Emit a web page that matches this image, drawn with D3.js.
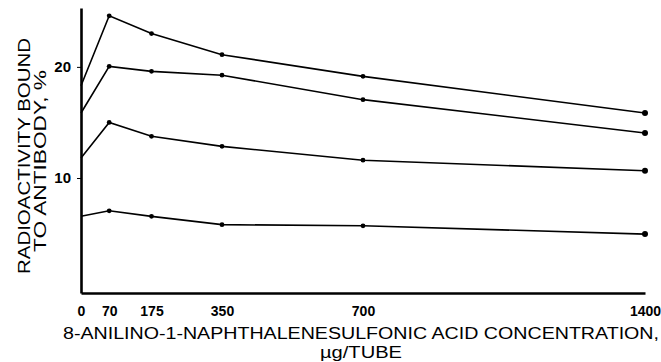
<html>
  <head>
    <script type="text/javascript" src="https://cdn.jsdelivr.net/npm/d3@7/dist/d3.min.js"></script>
    <style>
      body { margin: 0; background: #fff; }
      text { fill: #000; }
    </style>
  </head>
  <body>
    <script type="text/javascript">

    var concentrations = [0, 70, 175, 350, 700, 1400];
    var seriesA = [18.3, 24.6, 23.0, 21.1, 19.15, 15.85];
    var seriesB = [15.85, 20.05, 19.6, 19.25, 17.05, 14.05];
    var seriesC = [11.8, 15.0, 13.75, 12.85, 11.6, 10.65];
    var seriesD = [6.55, 7.05, 6.55, 5.8, 5.7, 4.95];
    var xTicks = [0, 70, 175, 350, 700, 1400];
    var yTicks = [10, 20];

    var svg = d3.select("body").append("svg")
                .attr("width", 661)
                .attr("height", 362);

    var x = d3.scaleLinear().domain([0, 1400]).range([81, 645]);
    var y = d3.scaleLinear().domain([-0.35, 25.3]).range([293, 8]);

    var tickFont = "Liberation Sans, Arial, sans-serif";
    var font = "Liberation Sans, Arial, sans-serif";

    // axes
    var yAxis = svg.append("g")
       .attr("transform", "translate(81,0)")
       .call(d3.axisLeft(y).tickValues(yTicks).tickSize(4).tickSizeOuter(0).tickPadding(6));
    yAxis.select(".domain").attr("stroke-width", 2.6);
    yAxis.selectAll("text").style("font-family", tickFont)
         .style("font-size", "15px").style("font-weight", "bold");

    var xAxis = svg.append("g")
       .attr("transform", "translate(0,293)")
       .call(d3.axisBottom(x).tickValues(xTicks).tickFormat(d3.format("d"))
               .tickSize(0).tickSizeOuter(0).tickPadding(13));
    xAxis.select(".domain").attr("stroke-width", 2.6);
    xAxis.selectAll("text").style("font-family", tickFont)
         .style("font-size", "14px").style("font-weight", "bold");

    // lines
    var allSeries = [seriesA, seriesB, seriesC, seriesD];
    var line = d3.line()
                 .x(function(d, i) { return x(concentrations[i]); })
                 .y(function(d) { return y(d); });

    for(var s = 0; s < allSeries.length; s++){
      svg.append("path")
         .datum(allSeries[s])
         .attr("d", line)
         .attr("fill", "none")
         .attr("stroke", "#000")
         .attr("stroke-width", 1.6);

      svg.selectAll(".dot" + s)
         .data(allSeries[s])
         .enter()
         .append("circle")
         .attr("cx", function(d, i) { return x(concentrations[i]); })
         .attr("cy", function(d) { return y(d); })
         .attr("r", function(d, i) { return i == 0 ? 0 : (i == 5 ? 3 : 2.4); })
         .attr("fill", "#000");
    }

    // axis titles (stretched to the width of the original lettering)
    svg.append("text")
       .attr("x", 361).attr("y", 339)
       .attr("text-anchor", "middle")
       .attr("textLength", 596).attr("lengthAdjust", "spacingAndGlyphs")
       .style("font-family", font).style("font-size", "16px")
       .text("8-ANILINO-1-NAPHTHALENESULFONIC ACID CONCENTRATION,");
    svg.append("text")
       .attr("x", 361).attr("y", 358)
       .attr("text-anchor", "middle")
       .attr("textLength", 82).attr("lengthAdjust", "spacingAndGlyphs")
       .style("font-family", font).style("font-size", "16px")
       .text("\u00b5g/TUBE");

    svg.append("text")
       .attr("transform", "translate(30,156) rotate(-90)")
       .attr("text-anchor", "middle")
       .attr("textLength", 236).attr("lengthAdjust", "spacingAndGlyphs")
       .style("font-family", font).style("font-size", "17px")
       .text("RADIOACTIVITY BOUND");
    svg.append("text")
       .attr("transform", "translate(46,161) rotate(-90)")
       .attr("text-anchor", "middle")
       .attr("textLength", 182).attr("lengthAdjust", "spacingAndGlyphs")
       .style("font-family", font).style("font-size", "17px")
       .text("TO ANTIBODY, %");

    </script>
  </body>
</html>
